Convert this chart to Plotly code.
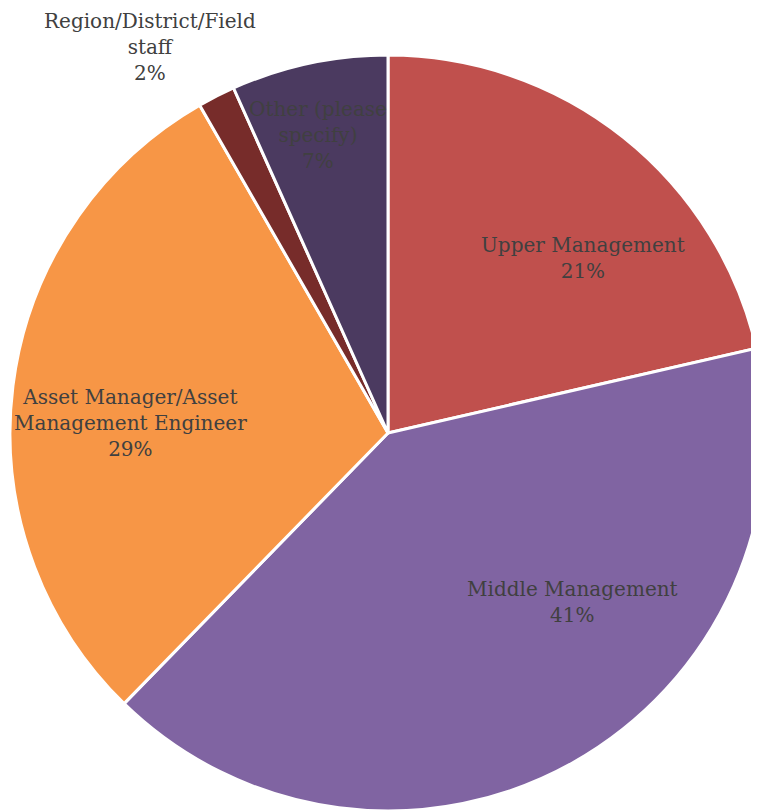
import plotly.graph_objects as go

# share of respondents by role
roles = [
    "Upper Management",
    "Middle Management",
    "Asset Manager/Asset<br>Management Engineer",
    "Region/District/Field<br>staff",
    "Other (please<br>specify)",
]
shares = [21.4, 40.9, 29.4, 1.6, 6.7]
colors = ["#C0504D", "#8064A2", "#F79646", "#772C2A", "#4B3A60"]

W, H = 759, 811
OFF = 8  # default page body margin
M = dict(l=2, r=1, t=47, b=8)
# label centres in page pixels (Excel-style placement)
label_px = [(583, 258), (572, 602), (130, 423), (150, 47), (318, 135)]

fig = go.Figure(
    go.Pie(
        labels=roles,
        values=shares,
        sort=False,
        direction="clockwise",
        rotation=0,
        marker=dict(colors=colors, line=dict(color="white", width=3)),
        textinfo="none",
        showlegend=False,
        hoverinfo="label+percent",
    )
)

pw = W - M["l"] - M["r"]
ph = H - M["t"] - M["b"]
total = sum(shares)
for name, val, (px, py) in zip(roles, shares, label_px):
    fig.add_annotation(
        x=(px - OFF - M["l"]) / pw,
        y=1 - (py - OFF - M["t"]) / ph,
        xref="paper", yref="paper",
        xanchor="center", yanchor="middle",
        text=f"{name}<br>{round(val / total * 100)}%",
        showarrow=False,
        align="center",
        font=dict(family="DejaVu Serif", size=20, color="#404040"),
    )

fig.update_layout(
    width=W,
    height=H,
    margin=M,
    paper_bgcolor="white",
    plot_bgcolor="white",
)

fig.write_html("out.html")
